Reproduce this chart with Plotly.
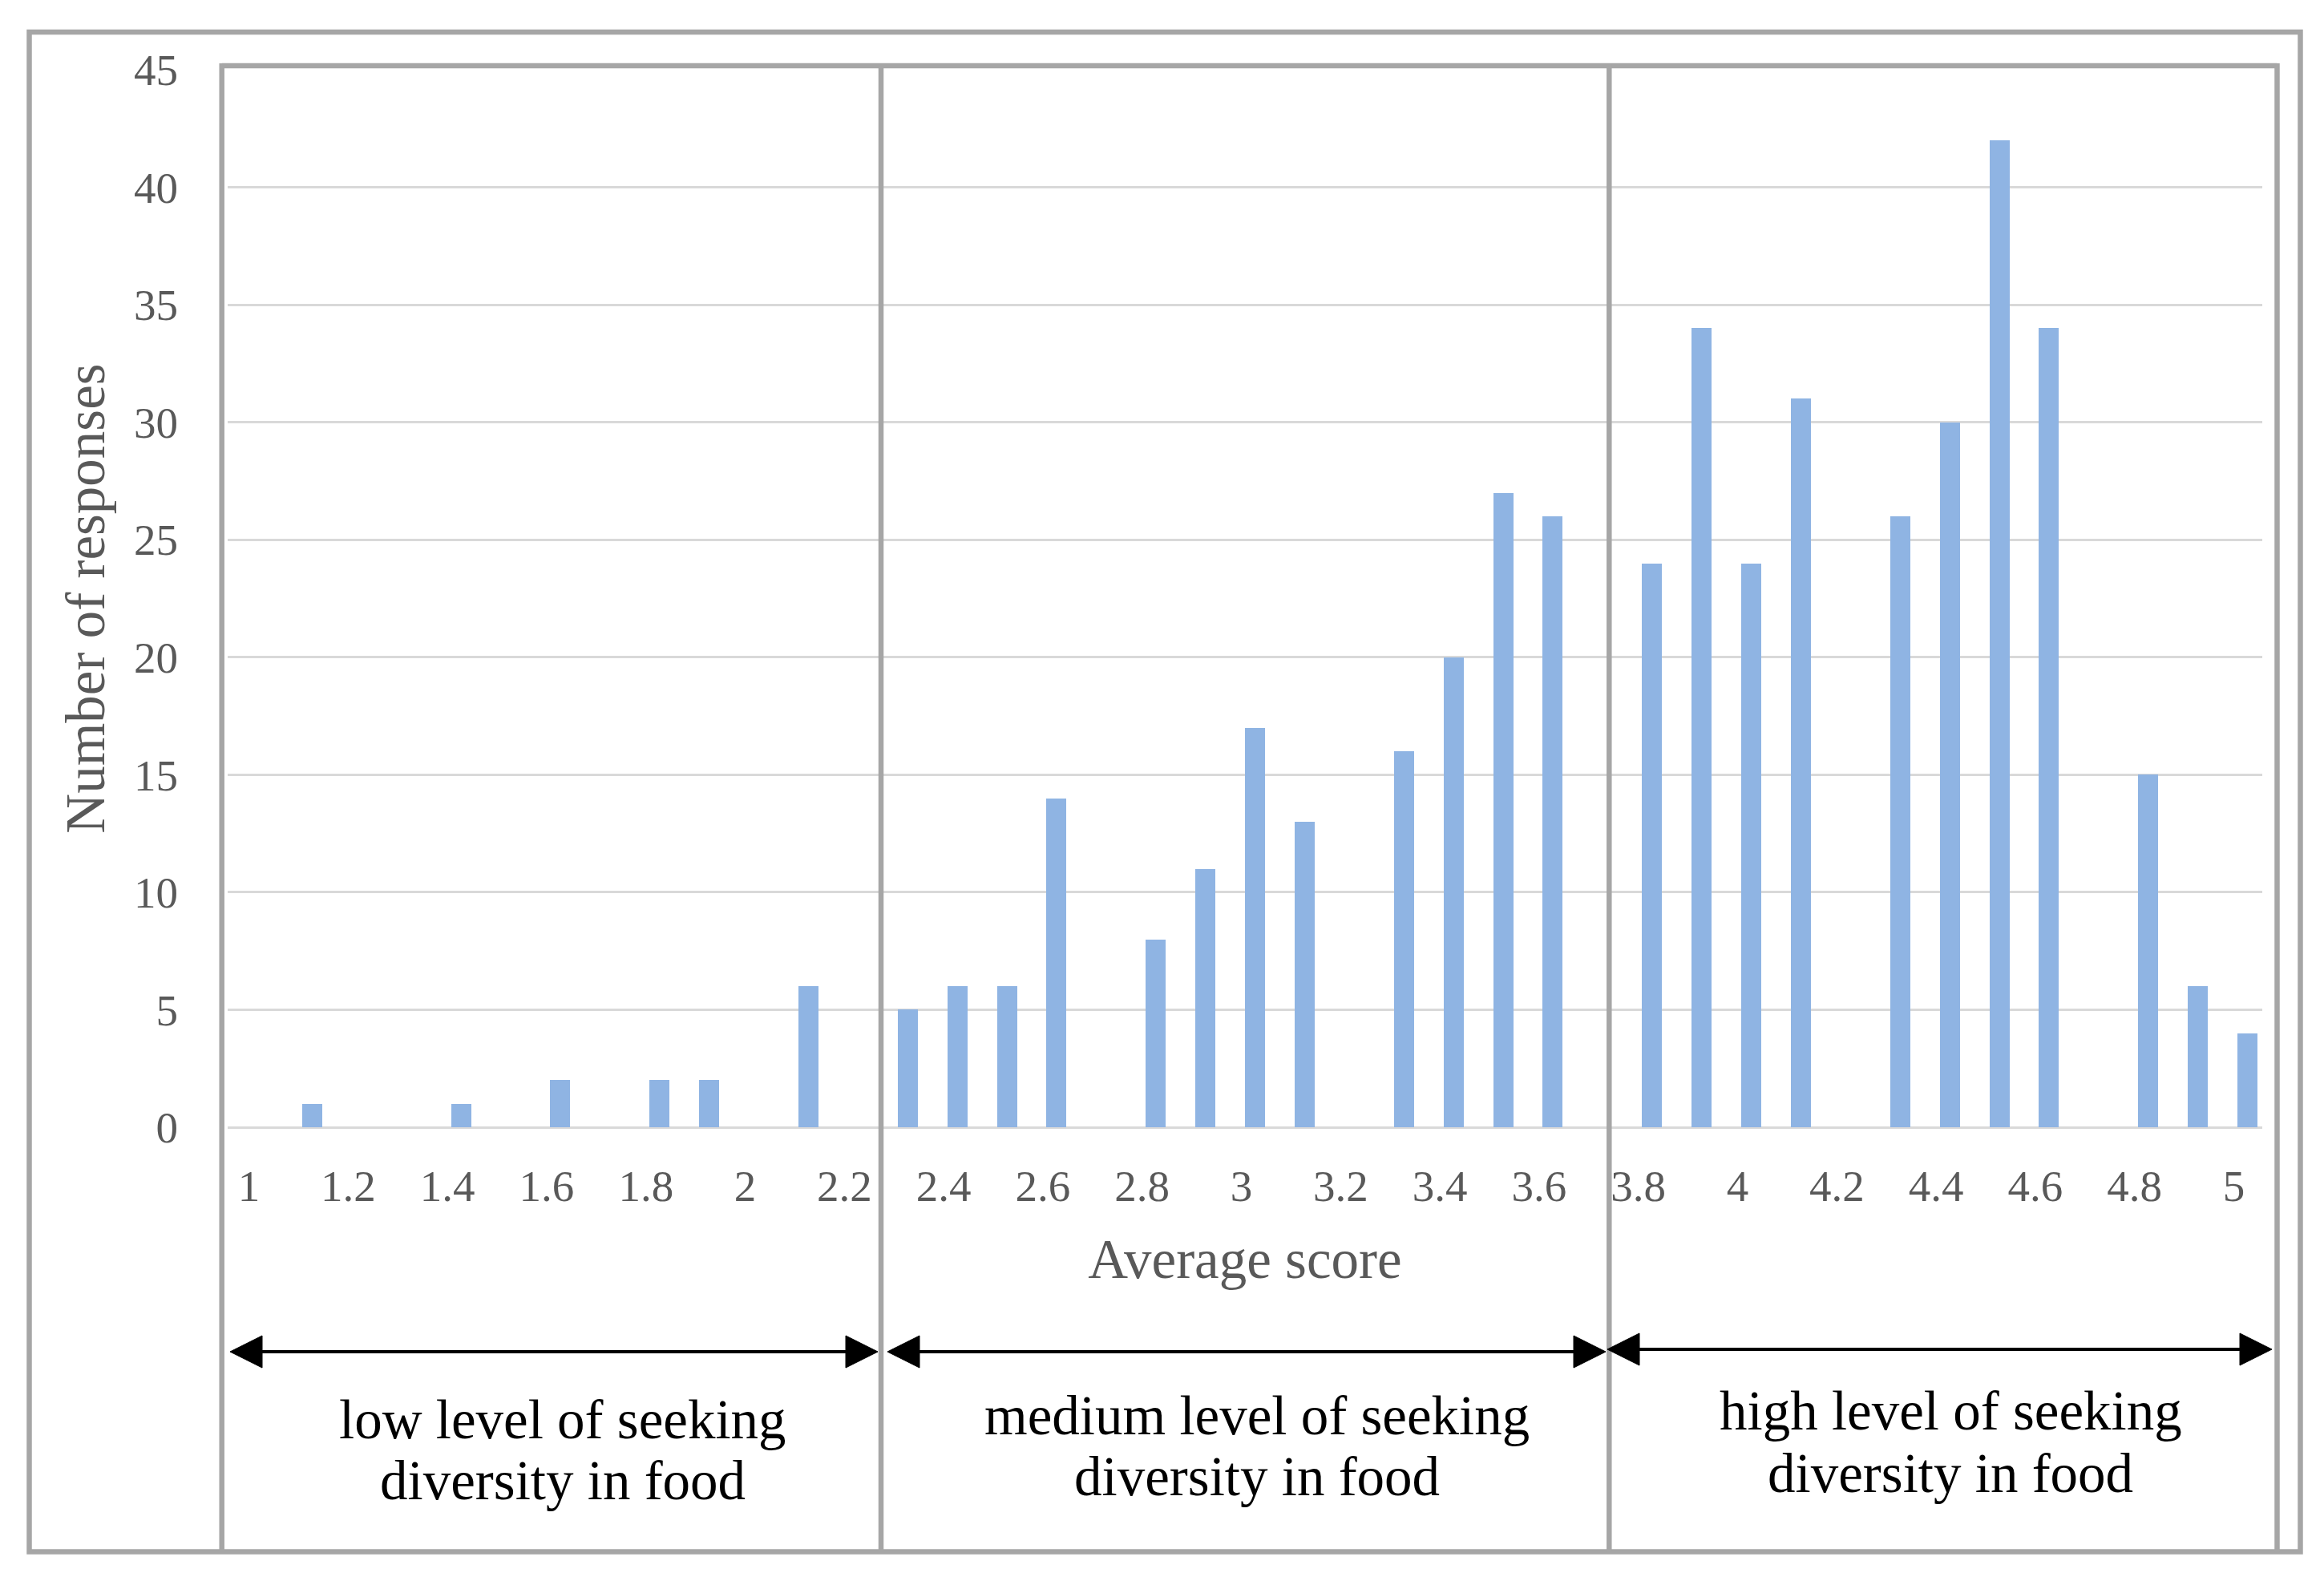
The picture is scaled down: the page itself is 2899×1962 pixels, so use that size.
import plotly.graph_objects as go

# ---- data ----
scores = [1.0, 1.1, 1.2, 1.3, 1.4, 1.5, 1.6, 1.7, 1.8, 1.9,
          2.0, 2.1, 2.2, 2.3, 2.4, 2.5, 2.6, 2.7, 2.8, 2.9,
          3.0, 3.1, 3.2, 3.3, 3.4, 3.5, 3.6, 3.7, 3.8, 3.9,
          4.0, 4.1, 4.2, 4.3, 4.4, 4.5, 4.6, 4.7, 4.8, 4.9, 5.0]
responses = [0, 1, 0, 0, 1, 0, 2, 0, 2, 2,
             0, 6, 0, 5, 6, 6, 14, 0, 8, 11,
             17, 13, 0, 16, 20, 27, 26, 0, 24, 34,
             24, 31, 0, 26, 30, 42, 34, 0, 15, 6, 4]
x_tick_vals = [1.0, 1.2, 1.4, 1.6, 1.8, 2.0, 2.2, 2.4, 2.6, 2.8, 3.0,
               3.2, 3.4, 3.6, 3.8, 4.0, 4.2, 4.4, 4.6, 4.8, 5.0]
x_tick_labels = ["1", "1.2", "1.4", "1.6", "1.8", "2", "2.2", "2.4", "2.6", "2.8", "3",
                 "3.2", "3.4", "3.6", "3.8", "4", "4.2", "4.4", "4.6", "4.8", "5"]
y_tick_vals = [0, 5, 10, 15, 20, 25, 30, 35, 40, 45]
level_labels = [
    ["low level of seeking", "diversity in food"],
    ["medium level of seeking", "diversity in food"],
    ["high level of seeking", "diversity in food"],
]

# ---- layout geometry (pixels of the 2899x1962 canvas) ----
W, H = 2899, 1962
PL, PR, PT, PB = 276, 2814, 79, 1398
FONT = "Liberation Serif"
GRAY_TXT = "#595959"
FRAME = "#A6A6A6"


def px(x):
    return (x - PL) / (PR - PL)


def py(y):
    return (PB - y) / (PB - PT)


fig = go.Figure()
fig.add_trace(go.Bar(
    x=scores, y=responses, width=0.0404,
    marker=dict(color="#8FB4E3", line=dict(width=0)),
    hoverinfo="x+y",
))

shapes = []


def seg(x0, y0, x1, y1, color=FRAME, width=6.5):
    shapes.append(dict(type="line", xref="paper", yref="paper",
                       x0=px(x0), y0=py(y0), x1=px(x1), y1=py(y1),
                       line=dict(color=color, width=width), layer="above"))


# outer frame
shapes.append(dict(type="rect", xref="paper", yref="paper",
                   x0=px(28.5), y0=py(32), x1=px(2861.5), y1=py(1927.5),
                   line=dict(color=FRAME, width=6.5), fillcolor="rgba(0,0,0,0)",
                   layer="above"))
# inner frame and dividers
seg(268.7, 74, 2832.5, 74)
for xv in (268.7, 1091, 1999.3, 2832.5):
    seg(xv, 71, xv, 1927.5)


def arrow(xa, xb, yv, hl=40, hh=20):
    seg(xa + hl - 2, yv, xb - hl + 2, yv, color="#000000", width=4)
    for tip, base in ((xa, xa + hl), (xb, xb - hl)):
        path = "M {} {} L {} {} L {} {} Z".format(
            px(tip), py(yv), px(base), py(yv - hh), px(base), py(yv + hh))
        shapes.append(dict(type="path", xref="paper", yref="paper", path=path,
                           fillcolor="#000000", line=dict(color="#000000", width=1),
                           layer="above"))


arrow(279, 1087, 1678)
arrow(1099, 1995, 1678)
arrow(1997, 2826, 1675)

annotations = []
label_pos = [(694, 1763, 1839), (1560, 1758, 1834), (2425, 1752, 1830)]
for (lx, y1, y2), lines in zip(label_pos, level_labels):
    for yy, txt in zip((y1, y2), lines):
        annotations.append(dict(
            xref="paper", yref="paper", x=px(lx), y=py(yy),
            xanchor="center", yanchor="middle", showarrow=False,
            text=txt, font=dict(family=FONT, size=69, color="#000000")))

fig.update_layout(
    width=W, height=H,
    margin=dict(l=PL, r=W - PR, t=PT, b=H - PB, autoexpand=False),
    paper_bgcolor="white", plot_bgcolor="white",
    showlegend=False,
    shapes=shapes, annotations=annotations,
    bargap=0,
    xaxis=dict(
        range=[0.9296, 5.0299], tickmode="array",
        tickvals=x_tick_vals, ticktext=x_tick_labels,
        showgrid=False, zeroline=False, showline=False, ticks="",
        ticklabelshift=-17, ticklabelstandoff=36,
        tickfont=dict(family=FONT, size=55, color=GRAY_TXT),
        title=dict(text="Average score", standoff=36,
                   font=dict(family=FONT, size=69, color=GRAY_TXT)),
    ),
    yaxis=dict(
        range=[0, 45], tickmode="array", tickvals=y_tick_vals,
        showgrid=True, gridcolor="#D9D9D9", gridwidth=3,
        zeroline=True, zerolinecolor="#D9D9D9", zerolinewidth=3,
        showline=False, ticks="", ticklabelstandoff=61,
        tickfont=dict(family=FONT, size=55, color=GRAY_TXT),
        title=dict(text="Number of responses", standoff=13,
                   font=dict(family=FONT, size=69, color=GRAY_TXT)),
    ),
)

fig.write_html("out.html")
